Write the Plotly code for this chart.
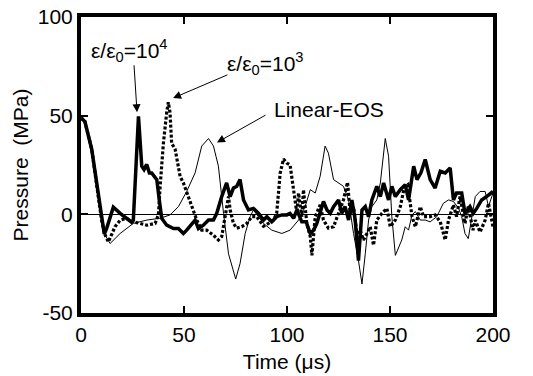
import plotly.graph_objects as go

# eps/eps0 = 1e4 (thick solid)
t_e4 = [0, 1.9, 5.2, 8.4, 10, 11.3, 12.5, 15.7, 19, 24.6, 25.4, 27.9, 29.5, 30.6, 31.9, 33.2, 34.3, 35.5, 36.8, 38, 39.2, 41.6, 44.9, 47.3, 49.7, 51.3, 53.8, 55.4, 57, 59.4, 61.9, 64.3, 65.9, 68.3, 70.7, 72.4, 74, 75.6, 77.2, 78.9, 81.3, 83.7, 86.2, 88.6, 90.2, 92.6, 95, 97.5, 99.9, 101.5, 103.2, 104.8, 107.2, 109.3, 111.3, 112.9, 114.5, 116.1, 117.7, 119.4, 121, 122.6, 125, 126.6, 128.2, 129.9, 131.5, 133.1, 134.7, 136.4, 138, 139.6, 141.2, 143.6, 145.3, 146.9, 149.3, 150.9, 152.6, 155, 157.4, 159, 161.5, 163.1, 165, 167.1, 169.5, 171.9, 174.4, 176.8, 179.2, 180.8, 182.3, 184.8, 186.4, 188.8, 190.4, 192.1, 194.5, 196.9, 200]
p_e4 = [49, 47, 33, 9, -3, -10, -7, 3.6, 0.5, -4, -3, 49.7, 24.4, 22.7, 25.3, 21, 21, 19.3, 17.6, 7.3, -2, -5.5, -7.2, -7.2, -9.7, -8, -4.6, -2.9, -7.2, -5.5, -2.9, -2.9, 0.5, 9, 15.9, 9, 13.3, 14.2, 17.6, 7.3, 2.2, 3, 0.5, -2.9, -1.2, -3.8, -1.2, -0.3, -0.3, 0.5, -2, 2.2, -3.8, -3.8, -9.7, -8, -4.6, 0.5, 6.5, 2.2, 0.5, 3.9, 7.3, 0.5, 3.9, -2.9, 7.3, -2.9, -23.4, 2.2, 3.9, -1.2, 7.3, 14.2, 9, 15.9, 7.3, 14.2, 9, 12.5, 15, 7.3, 24.4, 17.6, 21, 27.8, 17.6, 13.3, 21.8, 21, 23.5, 7.3, 10.8, 10.8, 0.5, 3.9, 0.5, 3, 7.3, 9, 11.6]

# eps/eps0 = 1e3 (dotted)
t_e3 = [0, 1.9, 5.2, 8.4, 10, 11.5, 13.3, 16.5, 19, 22, 25.4, 28.7, 32, 36, 37.6, 38.4, 40, 41.6, 42.4, 43.2, 44, 45.7, 48.1, 49.7, 52.1, 53.8, 56.2, 58.6, 61, 64.3, 66.7, 68.3, 70.7, 71.6, 72.4, 74, 75.6, 78, 80.5, 82.9, 85.3, 88.6, 91, 93.4, 95, 96.7, 98.3, 99.9, 101.5, 103.2, 104.8, 105.6, 107.2, 108, 109.6, 111.3, 112.1, 113.7, 116.1, 117.7, 120.1, 122.6, 125, 127.4, 129.4, 130.7, 132.3, 133.9, 135.5, 137.1, 138.8, 140.4, 142, 143.6, 146.1, 148.5, 150.1, 152.6, 155, 157, 158.6, 160.7, 162.3, 164.7, 166.3, 169.5, 171.9, 174.4, 176.8, 178.4, 180.8, 182.3, 184, 186.4, 188, 190.3, 191.4, 193.7, 196.2, 197.8, 200]
p_e3 = [49, 47, 33, 9, -3, -10, -14, -6.3, -3, -2, -3.8, -4.6, -5.5, -4.6, 0, 14, 36, 51.7, 56.8, 51.7, 36, 33, 19.3, 15.9, 9, 3.9, -2.9, -8, -8, -10.6, -13, -11.3, 2.2, 9, 2.2, -4.6, -7, -6.3, -4.6, -1.2, -1.2, -6, -4.6, -3, 0.5, 21, 28, 26, 25, 12.5, 0.5, 10.8, -1.2, 12.5, -4.6, -11.3, -20.8, -1.2, 4.8, -2.9, -7, -6.3, 0.5, 7.3, 16.2, 0.5, 3.9, -9.7, -8, -13, -9.7, -6.3, -15.7, -2.9, 0.5, 3, -6.3, -2.9, 3.9, 14, 15, -1.2, -6.3, 3.9, -1.2, -1.2, -0.3, -3.8, -13, -2.9, 4.8, -1.2, 9, -4.6, 3.9, -8, -2.9, -9, -2.9, 5.6, -6.3]

# Linear-EOS (thin solid)
t_lin = [0, 1.9, 5.2, 8.4, 10, 12, 14.1, 19, 25.4, 32, 38.4, 43.2, 47.3, 51.3, 55.4, 58.6, 61.9, 64.3, 66.7, 69.2, 71.6, 75.1, 77.2, 79.7, 82.1, 83.7, 86.2, 88.6, 92.6, 97.5, 101.5, 105.6, 108.8, 111.3, 113.7, 116.1, 118.5, 120.1, 122.6, 125, 127.4, 129.9, 132.3, 134.7, 136.4, 138, 139.6, 141.2, 143.6, 145.3, 147.7, 149.3, 150.9, 152.6, 154.1, 155.7, 157.4, 159, 160.7, 162.3, 164.7, 167.1, 169.5, 172.7, 175.9, 178.4, 180.8, 183.3, 184.8, 186.4, 188, 189.6, 191.4, 193.7, 196.2, 197.8, 200]
p_lin = [49, 47, 33, 9, -3, -11, -14.8, -9.7, -4.6, -2.9, -2, -0.3, 3.9, 11.6, 21, 34.6, 38.4, 34.6, 24.4, 0.5, -20, -32.8, -25, -9.7, -1.2, 2.2, -1.2, -4.6, -8, -9.7, -8, -2.9, 3.9, 12.5, 10.8, 19.3, 34.6, 31, 17.6, 15.9, 14.2, 7.3, -9.7, -23.4, -35.3, -20, -2.9, 3.9, 7.3, 15.9, 38.4, 29.5, -1.2, -20.8, -16.6, -13, -6.3, -8, -0.3, 1.4, -2.9, -2.9, -3.8, -1.2, 5.6, 7.3, 6.5, 3, -1.2, -9.7, -12.3, -1.2, 9, 11.6, 11.6, 3.9, 10.8]

x_ticks = [0, 50, 100, 150, 200]
y_ticks = [-50, 0, 50, 100]

FONT = "Liberation Sans, Arial, sans-serif"

fig = go.Figure()
fig.add_trace(go.Scatter(x=t_lin, y=p_lin, mode="lines",
                         line=dict(color="black", width=1), showlegend=False))
fig.add_trace(go.Scatter(x=t_e3, y=p_e3, mode="lines",
                         line=dict(color="black", width=3.2, dash="3px,2px"), showlegend=False))
fig.add_trace(go.Scatter(x=t_e4, y=p_e4, mode="lines",
                         line=dict(color="black", width=3.5), showlegend=False))

ann_font = dict(family=FONT, size=21, color="black")
fig.add_annotation(x=27.2, y=51.7, ax=25.7, ay=76.3, axref="x", ayref="y",
                   text="", showarrow=True, arrowhead=2, arrowsize=1.6, arrowwidth=1, arrowcolor="black")
fig.add_annotation(x=23.5, y=83, xref="x", yref="y", text="ε/ε<sub>0</sub>=10<sup>4</sup>",
                   showarrow=False, font=ann_font)
fig.add_annotation(x=44.7, y=58.9, ax=71.8, ay=71, axref="x", ayref="y",
                   text="", showarrow=True, arrowhead=2, arrowsize=1.6, arrowwidth=1, arrowcolor="black")
fig.add_annotation(x=89.8, y=76.5, xref="x", yref="y", text="ε/ε<sub>0</sub>=10<sup>3</sup>",
                   showarrow=False, font=ann_font)
fig.add_annotation(x=66, y=36.4, ax=90.3, ay=50.7, axref="x", ayref="y",
                   text="", showarrow=True, arrowhead=2, arrowsize=1.6, arrowwidth=1, arrowcolor="black")
fig.add_annotation(x=120.5, y=53.3, xref="x", yref="y", text="Linear-EOS",
                   showarrow=False, font=ann_font)

axis_common = dict(showgrid=False, showline=True, linecolor="black", linewidth=4, mirror="ticks",
                   ticks="inside", ticklen=7, tickwidth=1.5, tickcolor="black", automargin=False,
                   tickfont=dict(family=FONT, size=21, color="black"))

fig.update_xaxes(range=[0, 200], tickvals=x_ticks, ticktext=[str(v) for v in x_ticks],
                 zeroline=False,
                 title=dict(text="Time (μs)", font=dict(family=FONT, size=21, color="black"), standoff=10),
                 **axis_common)
fig.update_yaxes(range=[-50, 100], tickvals=y_ticks, ticktext=[str(v) for v in y_ticks],
                 zeroline=True, zerolinecolor="black", zerolinewidth=1,
                 title=dict(text="Pressure  (MPa)", font=dict(family=FONT, size=21, color="black"), standoff=4),
                 **axis_common)

fig.update_layout(width=533, height=376, margin=dict(l=81, r=40, t=17, b=63),
                  plot_bgcolor="white", paper_bgcolor="white")

fig.write_html("out.html")
